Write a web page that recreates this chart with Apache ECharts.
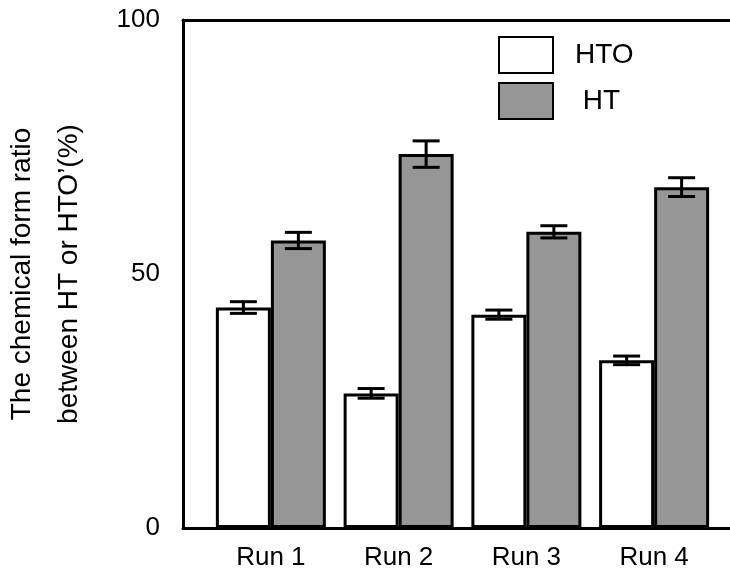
<!DOCTYPE html>
<html>
<head>
<meta charset="utf-8">
<script src="https://cdn.jsdelivr.net/npm/echarts@6/dist/echarts.min.js"></script>
<style>
  html, body { margin: 0; padding: 0; background: #fff; }
  #chart { width: 730px; height: 576px; }
</style>
</head>
<body>
<div id="chart"></div>
<script>
const runs = ['Run 1', 'Run 2', 'Run 3', 'Run 4'];
const htoValues = [43.4, 26.5, 42.0, 33.0];
const htoErrors = [1.15, 0.95, 0.9, 0.85];
const htValues = [56.6, 73.6, 58.3, 67.1];
const htErrors = [1.6, 2.6, 1.2, 1.85];
const yTicks = [0, 50, 100];

const FONT = 'Liberation Sans, Arial, sans-serif';
const BAR_W = 55;

function errorData(values, errors) {
    return values.map((v, i) => [i, v - errors[i], v + errors[i]]);
}

function errorSeries(name, values, errors, shift) {
    return {
        type: 'custom',
        name: name + ' error',
        xAxisIndex: 2,
        yAxisIndex: 1,
        z: 10,
        silent: true,
        data: errorData(values, errors),
        encode: { x: 0, y: [1, 2] },
        renderItem: function (params, api) {
            const lo = api.coord([api.value(0), api.value(1)]);
            const hi = api.coord([api.value(0), api.value(2)]);
            const x = lo[0] + shift;
            const half = 13.5;
            const style = { stroke: '#000', lineWidth: 3 };
            return {
                type: 'group',
                children: [
                    { type: 'line', shape: { x1: x, y1: lo[1], x2: x, y2: hi[1] }, style: style },
                    { type: 'line', shape: { x1: x - half, y1: lo[1], x2: x + half, y2: lo[1] }, style: style },
                    { type: 'line', shape: { x1: x - half, y1: hi[1], x2: x + half, y2: hi[1] }, style: style }
                ]
            };
        }
    };
}

const chart = echarts.init(document.getElementById('chart'));

chart.setOption({
    animation: false,
    backgroundColor: '#fff',
    textStyle: { fontFamily: FONT, color: '#000' },
    legend: {
        orient: 'vertical',
        left: 498,
        top: 36,
        padding: 0,
        itemWidth: 54,
        itemHeight: 36,
        itemGap: 8,
        icon: 'rect',
        selectedMode: false,
        data: ['HTO', 'HT'],
        formatter: name => name === 'HT' ? ' ' + name : name,
        textStyle: { fontFamily: FONT, fontSize: 28, color: '#000', padding: [0, 0, 0, 17] }
    },
    grid: [
        { left: 183, right: -6, top: 20, bottom: 48, outerBoundsMode: 'none' },
        { left: 207, right: 12, top: 20, bottom: 48, outerBoundsMode: 'none' }
    ],
    xAxis: [
        {
            type: 'value', gridIndex: 0, position: 'bottom', min: 0, max: 1,
            axisLine: { show: true, lineStyle: { color: '#000', width: 3 } },
            axisTick: { show: false }, axisLabel: { show: false }, splitLine: { show: false }
        },
        {
            type: 'value', gridIndex: 0, position: 'top', min: 0, max: 1,
            axisLine: { show: true, lineStyle: { color: '#000', width: 3 } },
            axisTick: { show: false }, axisLabel: { show: false }, splitLine: { show: false }
        },
        {
            type: 'category', gridIndex: 1, data: runs,
            axisLine: { show: false }, axisTick: { show: false },
            axisLabel: { fontFamily: FONT, fontSize: 26, color: '#000', margin: 17 }
        }
    ],
    yAxis: [
        {
            type: 'value', gridIndex: 0, min: 0, max: 100, interval: 50,
            axisLine: { show: true, lineStyle: { color: '#000', width: 3 } },
            axisTick: { show: false }, splitLine: { show: false },
            axisLabel: {
                fontFamily: FONT, fontSize: 26, color: '#000', margin: 23,
                formatter: v => yTicks.includes(v) ? String(v) : ''
            },
            name: 'The chemical form ratio\nbetween HT or HTO\u2019(%)',
            nameLocation: 'middle',
            nameRotate: 90,
            nameGap: 90,
            nameTextStyle: { fontFamily: FONT, fontSize: 28, color: '#000', lineHeight: 47 }
        },
        {
            type: 'value', gridIndex: 1, min: 0, max: 100, show: false
        }
    ],
    series: [
        {
            name: 'HTO', type: 'bar', xAxisIndex: 2, yAxisIndex: 1,
            barWidth: BAR_W, barGap: '0%',
            itemStyle: { color: '#fff', borderColor: '#000', borderWidth: 3 },
            data: htoValues
        },
        {
            name: 'HT', type: 'bar', xAxisIndex: 2, yAxisIndex: 1,
            barWidth: BAR_W, barGap: '0%',
            itemStyle: { color: '#969696', borderColor: '#000', borderWidth: 3 },
            data: htValues
        },
        errorSeries('HTO', htoValues, htoErrors, -BAR_W / 2),
        errorSeries('HT', htValues, htErrors, BAR_W / 2)
    ]
});
</script>
</body>
</html>
